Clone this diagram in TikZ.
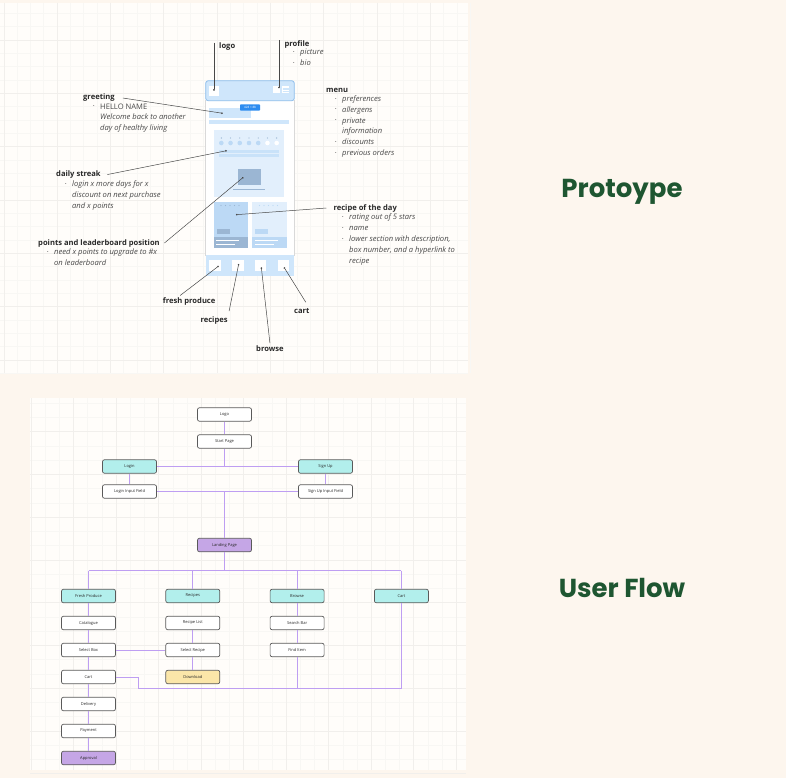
\documentclass[tikz,border=0pt]{standalone}
\usepackage{fontspec}
\setmainfont{Open Sans}
\newfontfamily\poppins{Poppins}
\usepackage{xcolor}
\usepackage{tikz}
\usetikzlibrary{arrows.meta,positioning,calc}
\definecolor{pagecream}{RGB}{253,246,238}
\definecolor{boardwhite}{RGB}{255,253,250}
\definecolor{gridgray}{RGB}{241,239,236}
\definecolor{gridfaint}{RGB}{248,247,244}
\definecolor{titlegreen}{RGB}{30,86,49}
\definecolor{inkgray}{RGB}{40,40,40}
\definecolor{notegray}{RGB}{72,72,72}
\definecolor{wireblue}{RGB}{207,230,251}
\definecolor{wireedge}{RGB}{141,189,235}
\definecolor{wirepale}{RGB}{226,239,252}
\definecolor{wiremid}{RGB}{188,217,245}
\definecolor{wiredark}{RGB}{155,182,211}
\definecolor{tagblue}{RGB}{45,140,240}
\definecolor{flowline}{RGB}{190,158,242}
\definecolor{flowcyan}{RGB}{178,239,236}
\definecolor{flowpurple}{RGB}{197,166,230}
\definecolor{flowyellow}{RGB}{251,230,169}
\definecolor{boxedge}{RGB}{90,90,90}
\newcommand{\lbul}{\makebox[7pt][l]{\raisebox{1.3pt}{\fontsize{4}{4}\selectfont\textbullet}}}
\newcommand{\lcnt}{\hspace*{7pt}}

\begin{document}
\begin{tikzpicture}[x=1pt, y=-1pt,
  head/.style={font=\fontsize{7.6}{9}\selectfont\bfseries, text=inkgray, inner sep=0pt, anchor=base west},
  bullets/.style={font=\fontsize{7.6}{10.8}\selectfont, text=notegray, inner sep=0pt, align=left, anchor=north west},
  pointer/.style={draw=notegray, line width=0.5pt, -{Circle[length=1.6pt]}},
  flowbox/.style={draw=boxedge, line width=0.7pt, rounded corners=2pt, fill=white, minimum width=54pt, minimum height=13.5pt, inner sep=0pt, font=\fontsize{4}{4.5}\selectfont, text=inkgray},
  catbox/.style={flowbox, fill=flowcyan},
  link/.style={draw=flowline, line width=1pt},
  title/.style={font=\fontsize{26}{30}\poppins\bfseries, text=titlegreen, inner sep=0pt, anchor=base}]
\useasboundingbox (0,0) rectangle (786,778);
\fill[pagecream] (0,0) rectangle (786,778);
\fill[boardwhite] (0,3) rectangle (468,373);
\fill[boardwhite] (30,398) rectangle (466,770);
\foreach \i in {0,...,35} \draw[gridfaint, line width=0.4pt] ({3.7+13.33*\i},3) -- ++(0,370);
\foreach \i in {0,...,27} \draw[gridfaint, line width=0.4pt] (0,{13.3+13.33*\i}) -- ++(468,0);
\foreach \i in {0,...,8} \draw[gridgray, line width=0.4pt] ({3.7+53.33*\i},3) -- ++(0,370);
\foreach \i in {0,...,6} \draw[gridgray, line width=0.4pt] (0,{40+53.33*\i}) -- ++(468,0);
\foreach \i in {0,...,30} \draw[gridfaint, line width=0.4pt] ({31+14.17*\i},398) -- ++(0,372);
\foreach \i in {0,...,25} \draw[gridfaint, line width=0.4pt] (30,{403+14.25*\i}) -- ++(436,0);
\foreach \i in {0,...,10} \draw[gridgray, line width=0.4pt] ({31+42.5*\i},398) -- ++(0,372);
\foreach \i in {0,...,8} \draw[gridgray, line width=0.4pt] (30,{431.5+42.75*\i}) -- ++(436,0);

% phone wireframe
\fill[white] (205.7,100) rectangle (294.3,256);
\draw[gray!30, line width=1pt] (205.7,100) -- (205.7,256) (294.3,100) -- (294.3,256);
\draw[wireedge, fill=wireblue, line width=0.8pt, rounded corners=2.5pt] (205.7,80.7) rectangle (294.3,100.7);
\fill[white] (209.3,85.7) rectangle (219.3,96);
\fill[white] (272.7,86) rectangle (280,93);
\fill[white] (281.7,86) rectangle (289.3,93);
\foreach \yy in {88,89.6,91.2} \draw[wireblue, line width=0.5pt] (282.5,\yy) -- (288.5,\yy);
\fill[wireblue] (209.3,108.3) rectangle (251,117.7);
\fill[wireblue] (209.3,120) rectangle (289.3,124);
\fill[tagblue, rounded corners=0.8pt] (240,104.3) rectangle (260,110.7);
\node[font=\fontsize{3}{3}\selectfont, text=white, inner sep=0pt] (sizetag) at (250,107.5) {428 × 88};
\fill[wirepale] (214.3,130) rectangle (284.3,196.7);
\foreach \i in {0,...,6} \fill[wiredark] ({221.3+9.23*\i},138) circle (0.7pt);
\foreach \i in {0,...,4} \fill[wiremid] ({221.3+9.23*\i},143) circle (2.3pt);
\foreach \i in {5,6} \fill[white] ({221.3+9.23*\i},143) circle (2.3pt);
\fill[wireblue!70!wiremid] (219.3,150) rectangle (279.3,153.3);
\fill[wireblue!70!wiremid] (219.3,154) rectangle (279.3,157.3);
\fill[wiredark] (237.7,168.7) rectangle (261,185);
\draw[wiredark, line width=1pt] (233.3,189) -- (265,189);
\fill[wiremid] (213.7,202) rectangle (248.3,247.7);
\foreach \i in {0,...,4} \fill[wiredark] ({221+4.5*\i},205.5) circle (0.7pt);
\fill[wiredark] (216.7,229.3) rectangle (230,234);
\fill[wiredark] (213.7,236.7) rectangle (248.3,247.7);
\draw[white, line width=0.7pt] (216,240) -- (239,240) (216,244) -- (235,244);
\fill[wirepale] (252,202) rectangle (286.7,247.7);
\foreach \i in {0,...,4} \fill[wiremid] ({259.5+4.5*\i},205.5) circle (0.7pt);
\fill[wiremid] (255,229.3) rectangle (268.3,234);
\fill[wiremid] (252,236.7) rectangle (286.7,247.7);
\draw[white, line width=0.7pt] (254.5,240) -- (277.5,240) (254.5,244) -- (273.5,244);
\fill[wireblue] (205.7,255.3) rectangle (294.3,275.5);
\foreach \xx in {209.3,232.3,255,278} \fill[white] (\xx,260) rectangle ++(11.3,11.3);

% annotations
\coordinate (logopin) at (214,90.7);
\coordinate (profilepin) at (279,88.3);
\coordinate (greetpin) at (222.7,113.3);
\coordinate (streakpin) at (226.7,150.7);
\coordinate (pointspin) at (243.3,177.3);
\coordinate (rotdpin) at (236,214.7);
\coordinate (freshpin) at (218.7,266);
\coordinate (recipespin) at (238.7,264);
\coordinate (browsepin) at (261.3,267.3);
\coordinate (cartpin) at (284,267.3);
\node[head] (logo) at (219,48.5) {logo};
\node[head] (profile) at (284.3,46.5) {profile};
\node[bullets] (profilelist) at (293,48.9) {\lbul\textit{picture}\\\lbul\textit{bio}};
\node[head] (menu) at (326,93) {menu};
\node[bullets] (menulist) at (335,95.4) {\lbul\textit{preferences}\\\lbul\textit{allergens}\\\lbul\textit{private}\\\lcnt\textit{information}\\\lbul\textit{discounts}\\\lbul\textit{previous orders}};
\node[head] (greet) at (83,100) {greeting};
\node[bullets] (greetlist) at (93,103.4) {\lbul HELLO NAME\\\lcnt\textit{Welcome back to another}\\\lcnt\textit{day of healthy living}};
\node[head] (streak) at (56,176.5) {daily streak};
\node[bullets] (streaklist) at (65,180.4) {\lbul\textit{login x more days for x}\\\lcnt\textit{discount on next purchase}\\\lcnt\textit{and x points}};
\node[head] (points) at (38,245) {points and leaderboard position};
\node[bullets] (pointslist) at (47,248.9) {\lbul\textit{need x points to upgrade to \#x}\\\lcnt\textit{on leaderboard}};
\node[head] (rotd) at (333.3,210) {recipe of the day};
\node[bullets] (rotdlist) at (342,213.9) {\lbul\textit{rating out of 5 stars}\\\lbul\textit{name}\\\lbul\textit{lower section with description,}\\\lcnt\textit{box number, and a hyperlink to}\\\lcnt\textit{recipe}};
\node[head] (fresh) at (162.7,303.5) {fresh produce};
\node[head] (recipes) at (200.3,322.5) {recipes};
\node[head] (browse) at (256,351) {browse};
\node[head] (cart) at (294,313) {cart};
\draw[pointer] (logo.north west -| logopin) -- (logopin);
\draw[pointer] (profile.north west -| profilepin) -- (profilepin);
\draw[pointer] ([xshift=8pt]greet.east) -- (greetpin);
\draw[pointer] ([xshift=6.5pt]streak.east) -- (streakpin);
\draw[pointer] ([xshift=4.5pt]points.east) -- (pointspin);
\draw[pointer] ([xshift=-7pt]rotd.west) -- (rotdpin);
\draw[pointer] ([xshift=-9pt,yshift=2pt]fresh.north) -- (freshpin);
\draw[pointer] ([xshift=1.3pt,yshift=5.5pt]recipes.north east) -- (recipespin);
\draw[pointer] ([yshift=2pt]browse.north) -- (browsepin);
\draw[pointer] ([xshift=4pt,yshift=5.5pt]cart.north) -- (cartpin);

% user flow
\node[flowbox] (logobox) at (224.5,414.5) {Logo};
\node[flowbox, below=12.8pt of logobox] (startpage) {Start Page};
\node[catbox] (login) at (129.5,466.5) {Login};
\node[catbox] (signup) at (325.5,466.5) {Sign Up};
\node[flowbox, below=10.8pt of login] (logininput) {Login Input Field};
\node[flowbox, below=10.8pt of signup] (signupinput) {Sign Up Input Field};
\node[flowbox, fill=flowpurple] (landing) at (224.5,545) {Landing Page};
\node[catbox] (freshprod) at (88.5,596) {Fresh Produce};
\node[catbox, right=49.6pt of freshprod] (recipesbox) {Recipes};
\node[catbox, right=49.6pt of recipesbox] (browsebox) {Browse};
\node[catbox, right=49.6pt of browsebox] (cartbox) {Cart};
\node[flowbox, below=12.8pt of freshprod] (catalogue) {Catalogue};
\node[flowbox, below=12.8pt of catalogue] (selectbox) {Select Box};
\node[flowbox, below=12.8pt of selectbox] (cartstep) {Cart};
\node[flowbox, below=12.8pt of cartstep] (delivery) {Delivery};
\node[flowbox, below=12.8pt of delivery] (payment) {Payment};
\node[flowbox, fill=flowpurple, below=12.8pt of payment] (approval) {Approval};
\node[flowbox, below=12.8pt of recipesbox] (recipelist) {Recipe List};
\node[flowbox, below=12.8pt of recipelist] (selectrecipe) {Select Recipe};
\node[flowbox, fill=flowyellow, below=12.8pt of selectrecipe] (download) {Download};
\node[flowbox, below=12.8pt of browsebox] (searchbar) {Search Bar};
\node[flowbox, below=12.8pt of searchbar] (finditem) {Find Item};
\coordinate (branch) at (224.5,570.5);
\coordinate (loopend) at (138.5,688.5);
\draw[link] (logobox) -- (startpage);
\draw[link] (startpage) -- (startpage |- login);
\draw[link] (login) -- (signup);
\draw[link] (login) -- (logininput);
\draw[link] (signup) -- (signupinput);
\draw[link] (logininput) -- (signupinput);
\draw[link] (landing.north |- logininput) -- (landing);
\draw[link] (landing) -- (branch);
\draw[link] (freshprod.north |- branch) -- (cartbox.north |- branch);
\foreach \c in {freshprod,recipesbox,browsebox,cartbox} \draw[link] (\c.north |- branch) -- (\c);
\foreach \a/\b in {freshprod/catalogue, catalogue/selectbox, selectbox/cartstep, cartstep/delivery, delivery/payment, payment/approval, recipelist/selectrecipe, selectrecipe/download, browsebox/searchbar, searchbar/finditem} \draw[link] (\a) -- (\b);
\draw[link] (selectbox) -- (selectrecipe);
\draw[link] (cartstep) -| (loopend) -- (cartbox.south |- loopend) -- (cartbox);
\draw[link] (finditem) -- (finditem |- loopend);

\node[title] (prototitle) at (622,197.3) {Protoype};
\node[title] (flowtitle) at (622,597) {User Flow};
\end{tikzpicture}
\end{document}
